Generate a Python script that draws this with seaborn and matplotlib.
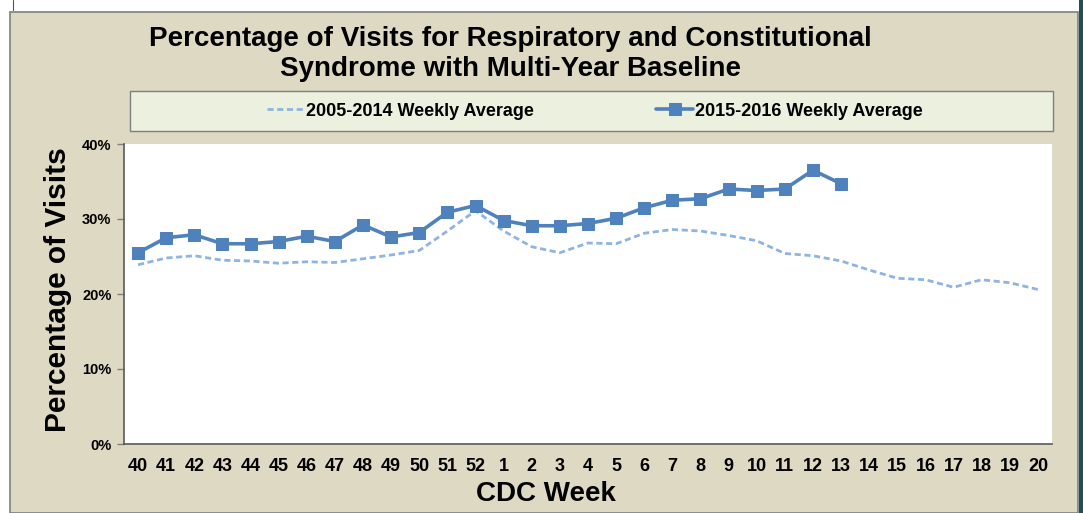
import matplotlib
matplotlib.use('Agg')

import matplotlib.pyplot as plt
import numpy as np
import pandas as pd
import seaborn as sns
from matplotlib.patches import Rectangle
from matplotlib.lines import Line2D
from matplotlib.ticker import PercentFormatter

# CDC weeks shown on the x axis
weeks = [str(w) for w in range(40, 53)] + [str(w) for w in range(1, 21)]

# 2005-2014 weekly average (%), all 33 weeks
baseline = [23.9, 24.8, 25.1, 24.5, 24.4, 24.1, 24.3, 24.2, 24.7, 25.2, 25.8,
            28.4, 31.1, 28.4, 26.3, 25.5, 26.8, 26.7, 28.1, 28.6, 28.4, 27.8,
            27.1, 25.4, 25.1, 24.4, 23.2, 22.1, 21.9, 20.9, 21.9, 21.5, 20.6]

# 2015-2016 weekly average (%), weeks 40 through 13
current = [25.5, 27.5, 27.9, 26.7, 26.7, 27.0, 27.7, 27.0, 29.2, 27.6, 28.2,
           30.9, 31.8, 29.8, 29.1, 29.1, 29.4, 30.1, 31.5, 32.5, 32.7, 34.0,
           33.8, 34.0, 36.5, 34.7]

y_ticks = [0, 10, 20, 30, 40]

df = pd.DataFrame({'week': weeks, 'baseline': baseline})
df['pos'] = np.arange(len(weeks))
df['current'] = current + [np.nan] * (len(weeks) - len(current))

sns.set_style('white')
plt.rcParams['font.family'] = ['Liberation Sans', 'DejaVu Sans']
plt.rcParams['font.weight'] = 'bold'
plt.rcParams['text.color'] = 'black'
plt.rcParams['xtick.color'] = 'black'
plt.rcParams['ytick.color'] = 'black'

fig = plt.figure(figsize=(10.83, 5.13), dpi=100, facecolor='white')

# beige chart area with grey border, dark strip on the right
W, H = 1083, 513
fig.patches.append(Rectangle((10 / W, 0), 1068 / W, 501 / H, transform=fig.transFigure,
                             facecolor='#DDD9C3', edgecolor='#7F7F7F', lw=1.2, zorder=-2))
fig.patches.append(Rectangle((1079 / W, 0), 4 / W, 1, transform=fig.transFigure,
                             facecolor='#1D4F5C', edgecolor='none', zorder=-1))
fig.lines.append(Line2D([13 / W, 13 / W], [503 / H, 1], transform=fig.transFigure,
                        color='#555555', lw=0.8))

# legend box
fig.patches.append(Rectangle((130 / W, (H - 131) / H), 923 / W, 40 / H, transform=fig.transFigure,
                             facecolor='#EBF1DE', edgecolor='#7F7F7F', lw=1.0, zorder=-1))

ax = fig.add_axes([124 / W, (H - 444) / H, 928 / W, 300 / H])
ax.set_facecolor('white')

sns.lineplot(data=df, x='pos', y='baseline', ax=ax, color='#8DB4E2', lw=2.0,
             linestyle=(0, (2.2, 1.3)), label='2005-2014 Weekly Average', legend=False)
sns.lineplot(data=df.dropna(subset=['current']), x='pos', y='current', ax=ax, color='#4F81BD',
             lw=2.6, marker='s', markersize=9, markeredgecolor='#4F81BD',
             label='2015-2016 Weekly Average', legend=False)

ax.set_xlim(-0.5, len(weeks) - 0.5)
ax.set_ylim(0, 40)
ax.set_yticks(y_ticks)
ax.yaxis.set_major_formatter(PercentFormatter(decimals=0))
ax.set_xticks(df['pos'])
ax.set_xticklabels(weeks)
ax.set_xticks(np.arange(-0.5, len(weeks)), minor=True)
ax.tick_params(axis='x', which='major', length=0, pad=10, labelsize=13, labelcolor='black')
ax.tick_params(axis='x', which='minor', length=5, color='#7F7F7F', width=1, direction='out')
ax.tick_params(axis='y', which='major', length=5, color='#7F7F7F', width=1,
               direction='out', labelsize=10.5, pad=4, left=True, labelcolor='black')
for lab in ax.get_xticklabels() + ax.get_yticklabels():
    lab.set_fontweight('bold')

for side in ['top', 'right']:
    ax.spines[side].set_visible(False)
for side in ['left', 'bottom']:
    ax.spines[side].set_color('#595959')
    ax.spines[side].set_linewidth(1.2)

ax.set_xlabel('')
ax.set_ylabel('')
fig.text(58 / W, (H - 290) / H, 'Percentage of Visits', rotation=90, ha='center', va='center',
         fontsize=21.5, fontweight='bold', color='black')
fig.text(546 / W, (H - 494) / H, 'CDC Week', ha='center', va='center',
         fontsize=20, fontweight='bold', color='black')
fig.text(510 / W, (H - 54) / H,
         'Percentage of Visits for Respiratory and Constitutional\nSyndrome with Multi-Year Baseline',
         ha='center', va='center', fontsize=20, fontweight='bold', linespacing=1.2, color='black')

handles, labels = ax.get_legend_handles_labels()
fig.legend(handles, labels, loc='center', bbox_to_anchor=(595 / W, (H - 111) / H), ncol=2,
           frameon=False, handlelength=2.0, handletextpad=0.15,
           columnspacing=6.8, prop={'weight': 'bold', 'size': 13})

fig.savefig('out.png', dpi=100, facecolor='white')
